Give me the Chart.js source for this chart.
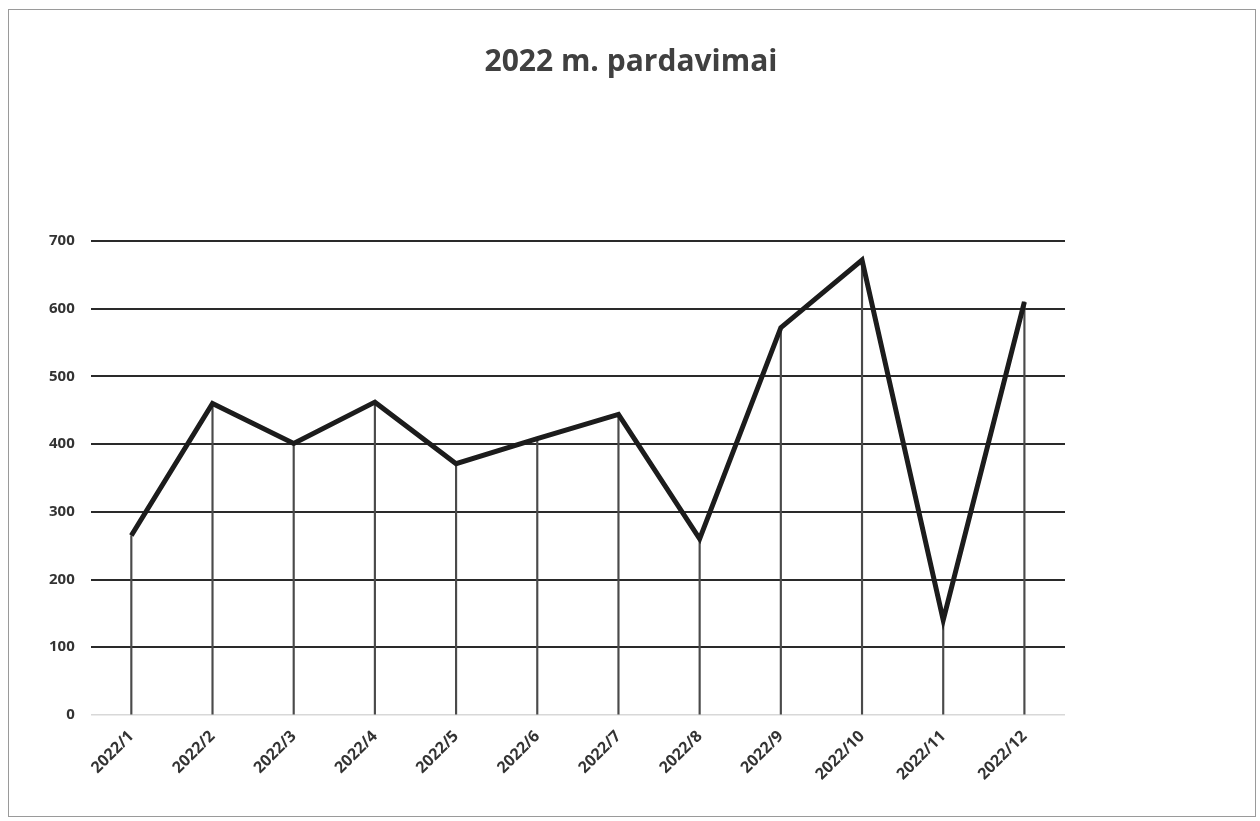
<!DOCTYPE html>
<html>
<head>
<meta charset="utf-8">
<script src="https://cdn.jsdelivr.net/npm/chart.js@4/dist/chart.umd.min.js"></script>
<style>
    html, body { margin: 0; padding: 0; background: #fff; }
    #wrap {
        position: absolute;
        left: 8px; top: 9px;
        width: 1248px; height: 808px;
        border: 1px solid #9a9a9a;
        box-sizing: border-box;
    }
    #salesChart { position: absolute; left: 0; top: 0; }
</style>
</head>
<body>
<div id="wrap"></div>
<canvas id="salesChart" width="1260" height="821"></canvas>

<script>
const months = ['2022/1', '2022/2', '2022/3', '2022/4', '2022/5', '2022/6',
    '2022/7', '2022/8', '2022/9', '2022/10', '2022/11', '2022/12'];
const sales = [265, 460, 401, 462, 371, 408, 444, 260, 572, 672, 140, 610];
const yTicks = [0, 100, 200, 300, 400, 500, 600, 700];

const font = "'Open Sans', 'Liberation Sans', sans-serif";

function renderSalesChart() {
    const canvas = document.getElementById('salesChart');

    new Chart(canvas, {
        data: {
            labels: months,
            datasets: [
                {
                    // linija
                    type: 'line',
                    data: sales,
                    borderColor: '#1c1c1c',
                    borderWidth: 5,
                    borderJoinStyle: 'miter',
                    pointRadius: 0,
                    tension: 0,
                    order: 0
                },
                {
                    // vertikalios linijos nuo taško iki ašies
                    type: 'bar',
                    data: sales,
                    backgroundColor: '#4a4a4a',
                    barThickness: 1.5,
                    order: 1
                }
            ]
        },
        options: {
            responsive: false,
            animation: false,
            layout: {
                padding: { left: 33, right: 31, top: 0, bottom: 33 }
            },
            plugins: {
                legend: { display: false },
                tooltip: { enabled: false },
                title: {
                    display: true,
                    text: '2022 m. pardavimai',
                    color: '#404040',
                    font: { family: font, size: 30, weight: 'bold' },
                    padding: { top: 44, bottom: 161 }
                }
            },
            scales: {
                x: {
                    offset: true,
                    grid: { display: false },
                    border: { display: false },
                    ticks: {
                        color: '#333',
                        font: { family: font, size: 16, weight: 'bold' },
                        maxRotation: 45,
                        minRotation: 45,
                        padding: 4
                    }
                },
                y: {
                    min: 0,
                    max: 700,
                    afterBuildTicks: (axis) => {
                        axis.ticks = yTicks.map(v => ({ value: v }));
                    },
                    border: { display: false },
                    grid: {
                        drawTicks: false,
                        color: (c) => c.tick && c.tick.value === 0 ? '#d8d8d8' : '#2a2a2a',
                        lineWidth: (c) => c.tick && c.tick.value === 0 ? 1.5 : 2
                    },
                    ticks: {
                        color: '#333',
                        font: { family: font, size: 15, weight: 'bold' },
                        padding: 16
                    }
                },
                // tuščia vieta dešinėje
                yRight: {
                    position: 'right',
                    display: true,
                    grid: { display: false },
                    border: { display: false },
                    ticks: { display: false },
                    afterFit: (axis) => { axis.width = 164; }
                }
            }
        }
    });
}

document.addEventListener('DOMContentLoaded', renderSalesChart);
</script>
</body>
</html>
